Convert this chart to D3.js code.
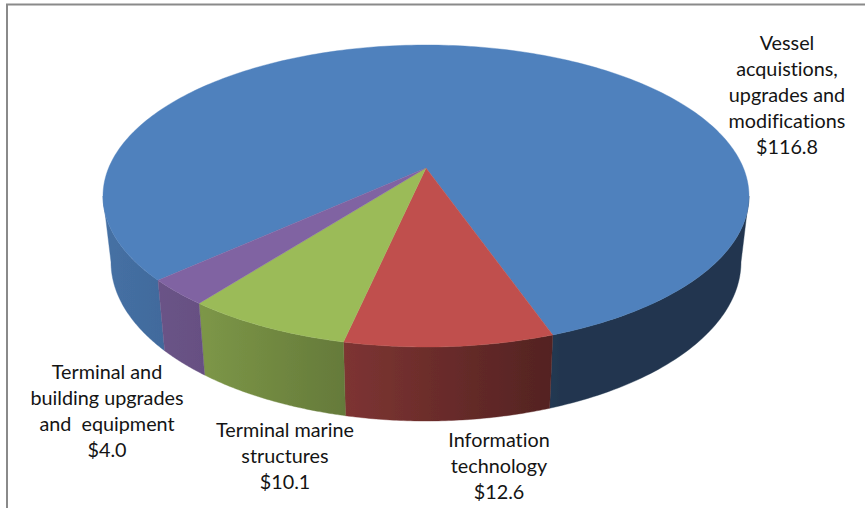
<!DOCTYPE html>
<html>
<head>
<meta charset="utf-8">
<script src="https://cdn.jsdelivr.net/npm/d3@7/dist/d3.min.js"></script>
<style>
html,body{margin:0;padding:0;background:#fff}
svg{display:block}
text{font-family:Lato,"Open Sans",sans-serif;font-size:19.8px;fill:#141414;text-anchor:middle;font-variant-ligatures:none}
</style>
</head>
<body>
<script>
const categories = ["Vessel acquistions, upgrades and modifications","Information technology","Terminal marine structures","Terminal and building upgrades and  equipment"];
const values = [116.8, 12.6, 10.1, 4.0];
const valueLabels = ["$116.8","$12.6","$10.1","$4.0"];
const labelLines = [
  ["Vessel","acquistions,","upgrades and","modifications"],
  ["Information","technology"],
  ["Terminal marine","structures"],
  ["Terminal and","building upgrades","and  equipment"]
];
const colors = ["#4f81bd","#c0504d","#9bbb59","#8064a2"];
const labelX = [787, 499, 285, 107];
const labelY = [50, 447, 437, 379];
const lineStep = 25.9;
const shadeStops = [[103,.87],[204,.8],[345,.65],[548,.44],[560,.42],[749,.42]];

const W = 865, H = 508;
const rad = d => d * Math.PI / 180;
const apex = {x:426, y:168};
const topRim = {cx:426, cy:196, rx:323, ry:151};
const lowRim = {cx:426, cy:262, rx:315, ry:159};
const ray = {sx:317, sy:146};

const rimTop = t => [topRim.cx + topRim.rx*Math.cos(t), topRim.cy + topRim.ry*Math.sin(t)];
const rimLow = t => [lowRim.cx + lowRim.rx*Math.cos(t), lowRim.cy + lowRim.ry*Math.sin(t)];

function thetaToT(th){
  const dx = ray.sx*Math.sin(th), dy = -ray.sy*Math.cos(th);
  let a = th - Math.PI/2 - 0.9, b = th - Math.PI/2 + 0.9;
  for(let i=0;i<50;i++){
    const m=(a+b)/2, p=rimTop(m);
    const c = dx*(p[1]-apex.y) - dy*(p[0]-apex.x);
    if(c<0) a=m; else b=m;
  }
  return (a+b)/2;
}

const svg = d3.select("body").append("svg").attr("width",W).attr("height",H);
const defs = svg.append("defs");
defs.append("filter").attr("id","soft").attr("x","-2%").attr("y","-2%").attr("width","104%").attr("height","104%")
  .append("feGaussianBlur").attr("stdDeviation",.45);
colors.forEach((c,i)=>{
  const g = defs.append("linearGradient").attr("id","wall"+i).attr("gradientUnits","userSpaceOnUse")
    .attr("x1",103).attr("x2",749).attr("y1",0).attr("y2",0);
  const base = d3.rgb(c);
  shadeStops.forEach(([x,f])=>{
    g.append("stop").attr("offset",(x-103)/646)
     .attr("stop-color",d3.rgb(base.r*f,base.g*f,base.b*f).formatHex());
  });
});

// frame
svg.append("path").attr("d",`M7,${H}V4.5H${W}`).attr("fill","none").attr("stroke","#8a8a8a").attr("stroke-width",2);

const pie = d3.pie().sort(null).startAngle(rad(-132.3)).endAngle(rad(227.7));
const arcs = pie(values);
const line = d3.line();

const sample = (t0,t1,n) => d3.range(n+1).map(i=>t0+(t1-t0)*i/n);

const pieG = svg.append("g").attr("filter","url(#soft)");

// side walls
const wallG = pieG.append("g");
arcs.forEach((d,i)=>{
  const t0 = thetaToT(d.startAngle), t1 = thetaToT(d.endAngle);
  [-1,0,1].forEach(k=>{
    const a = Math.max(t0, 2*Math.PI*k), b = Math.min(t1, 2*Math.PI*k+Math.PI);
    if(b<=a) return;
    const ts = sample(a,b,60);
    const pts = ts.map(rimTop).concat(ts.slice().reverse().map(rimLow));
    wallG.append("path").attr("d",line(pts)+"Z").attr("fill",`url(#wall${i})`).attr("stroke",`url(#wall${i})`).attr("stroke-width",.4);
  });
});

// top faces
const topG = pieG.append("g");
arcs.forEach((d,i)=>{
  const t0 = thetaToT(d.startAngle), t1 = thetaToT(d.endAngle);
  const n = Math.max(20,Math.round((t1-t0)*60));
  const pts = [[apex.x,apex.y]].concat(sample(t0,t1,n).map(rimTop));
  topG.append("path").attr("d",line(pts)+"Z").attr("fill",colors[i]).attr("stroke",colors[i]).attr("stroke-width",.4);
});

// labels
categories.forEach((c,i)=>{
  const lines = labelLines[i].concat([valueLabels[i]]);
  const t = svg.append("text").style("white-space","pre");
  lines.forEach((l,j)=>{
    t.append("tspan").attr("x",labelX[i]).attr("y",labelY[i]+j*lineStep).text(l);
  });
});
</script>
</body>
</html>
